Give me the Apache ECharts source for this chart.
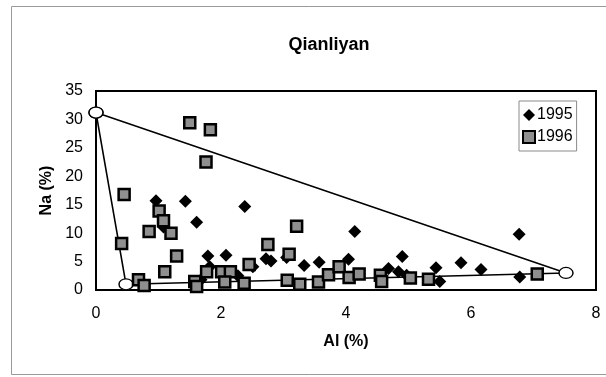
<!DOCTYPE html>
<html>
<head>
<meta charset="utf-8">
<script src="https://cdn.jsdelivr.net/npm/echarts@6/dist/echarts.min.js"></script>
<style>
  html, body { margin: 0; padding: 0; background: #fff; }
  #chart { width: 606px; height: 377px; }
</style>
</head>
<body>
<div id="chart"></div>
<script>
// Al (%) vs Na (%) samples, Qianliyan
const samples1995 = [
  [0.96, 15.7], [1.43, 15.6], [1.61, 11.9], [1.08, 11.1], [2.38, 14.7],
  [1.79, 6.0], [2.08, 6.1], [1.82, 4.1], [1.68, 1.8], [2.27, 2.5],
  [2.51, 4.1], [2.72, 5.5], [2.80, 5.1], [3.05, 5.7], [3.33, 4.3],
  [3.57, 4.9], [4.04, 5.4], [4.14, 10.3], [4.68, 3.8], [4.84, 3.2],
  [4.90, 5.9], [4.97, 2.6], [5.44, 3.9], [5.50, 1.5], [5.84, 4.8],
  [6.16, 3.6], [6.77, 9.8], [6.78, 2.3]
];
const samples1996 = [
  [1.50, 29.4], [1.83, 28.2], [1.76, 22.5], [0.45, 16.8], [0.41, 8.2],
  [1.01, 13.9], [1.08, 12.2], [0.85, 10.3], [1.20, 10.0], [1.29, 6.0],
  [1.10, 3.2], [0.68, 1.8], [0.77, 0.8], [1.58, 1.5], [1.61, 0.6],
  [1.77, 3.2], [2.01, 3.2], [2.15, 3.2], [2.06, 1.4], [2.37, 1.2],
  [2.45, 4.5], [2.75, 8.0], [3.21, 11.2], [3.09, 6.3], [3.06, 1.7],
  [3.26, 1.0], [3.56, 1.4], [3.72, 2.7], [3.89, 4.1], [4.05, 2.2],
  [4.21, 2.8], [4.55, 2.6], [4.57, 1.5], [5.03, 2.1], [5.32, 1.9],
  [7.06, 2.8]
];
// mixing triangle end-members (closed path)
const triangleVertices = [[0, 31.2], [0.48, 1.0], [7.52, 3.0], [0, 31.2]];
const seriesNames = ['1995', '1996'];
const xTicks = { min: 0, max: 8, step: 2 };
const yTicks = { min: 0, max: 35, step: 5 };

const FONT = 'Liberation Sans, Arial, sans-serif';
const chart = echarts.init(document.getElementById('chart'), null, { renderer: 'canvas' });

chart.setOption({
  backgroundColor: '#fff',
  animation: false,
  title: {
    text: 'Qianliyan',
    left: 324,
    top: 31,
    textAlign: 'center',
    textStyle: { fontFamily: FONT, fontSize: 18, fontWeight: 'bold', color: '#000' }
  },
  graphic: [{
    type: 'rect',
    shape: { x: 11.5, y: 6.5, width: 640, height: 368 },
    style: { fill: 'none', stroke: '#9a9a9a', lineWidth: 1 },
    z: -1
  }],
  legend: {
    data: [
      { name: seriesNames[0], icon: 'diamond' },
      { name: seriesNames[1], icon: 'rect' }
    ],
    orient: 'vertical',
    left: 519,
    top: 101,
    itemWidth: 12,
    itemHeight: 12,
    itemGap: 6,
    padding: [6, 4, 6, 3],
    borderColor: '#8a8a8a',
    borderWidth: 1,
    textStyle: { fontFamily: FONT, fontSize: 16, color: '#000', padding: [0, 0, 0, -3] }
  },
  grid: {
    left: 96, right: 10, top: 91, bottom: 87,
    show: true, borderColor: '#000', borderWidth: 2, backgroundColor: '#fff'
  },
  xAxis: {
    type: 'value',
    min: xTicks.min, max: xTicks.max, interval: xTicks.step,
    name: 'Al (%)',
    nameLocation: 'middle',
    nameGap: 44,
    nameTextStyle: { fontFamily: FONT, fontSize: 16, fontWeight: 'bold', color: '#000' },
    axisLine: { show: true, lineStyle: { color: '#000', width: 2 } },
    axisTick: { show: false },
    splitLine: { show: false },
    axisLabel: { fontFamily: FONT, fontSize: 16, color: '#000', margin: 16 }
  },
  yAxis: {
    type: 'value',
    min: yTicks.min, max: yTicks.max, interval: yTicks.step,
    name: 'Na (%)',
    nameLocation: 'middle',
    nameGap: 36,
    nameTextStyle: { fontFamily: FONT, fontSize: 16, fontWeight: 'bold', color: '#000' },
    axisLine: { show: true, lineStyle: { color: '#000', width: 2 } },
    axisTick: { show: false },
    splitLine: { show: false },
    axisLabel: { fontFamily: FONT, fontSize: 16, color: '#000', margin: 13 }
  },
  series: [
    {
      name: 'triangle',
      type: 'line',
      data: triangleVertices,
      symbol: 'circle',
      symbolSize: [14, 11],
      showAllSymbol: true,
      lineStyle: { color: '#000', width: 1.6 },
      itemStyle: { color: '#fff', borderColor: '#000', borderWidth: 1.3 },
      z: 1
    },
    {
      name: seriesNames[0],
      type: 'scatter',
      data: samples1995,
      symbol: 'diamond',
      symbolSize: 13,
      itemStyle: { color: '#000', opacity: 1 },
      z: 3
    },
    {
      name: seriesNames[1],
      type: 'scatter',
      data: samples1996,
      symbol: 'rect',
      symbolSize: 11,
      itemStyle: { color: '#8f8f8f', borderColor: '#000', borderWidth: 2.5, opacity: 1 },
      z: 4
    }
  ]
});
</script>
</body>
</html>
